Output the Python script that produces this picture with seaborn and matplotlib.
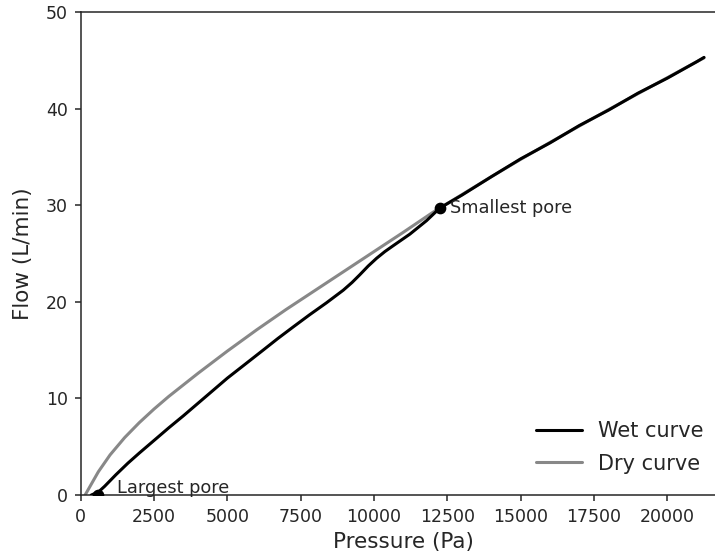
import matplotlib
matplotlib.use("Agg")
import matplotlib.pyplot as plt
import seaborn as sns
import pandas as pd

# Dry (reference) run: pressure in Pa, flow in L/min
dry_pressure = [150, 600, 1000, 1500, 2000, 2500, 3000, 4000, 5000, 6000, 7000,
                8000, 9000, 10000, 11000, 12000, 12240, 13000, 14000, 15000,
                16000, 17000, 18000, 19000, 20000, 21000, 21250]
dry_flow = [0.0, 2.4, 4.15, 5.95, 7.5, 8.9, 10.2, 12.6, 14.9, 17.1, 19.2,
            21.2, 23.2, 25.2, 27.2, 29.25, 29.7, 31.1, 32.95, 34.75,
            36.5, 38.2, 39.9, 41.55, 43.2, 44.85, 45.25]

# Wet run (sample saturated with wetting liquid)
wet_pressure = [360, 600, 815, 1200, 1610, 2000, 2520, 3000, 3500, 4000, 4500,
                5000, 5590, 6220, 6720, 7245, 7800, 8380, 8950, 9250, 9515,
                9800, 10085, 10370, 10650, 11220, 11790, 12240, 13000, 14000,
                15000, 16000, 17000, 18000, 19000, 20000, 21000, 21250]
wet_flow = [0.0, 0.3, 0.9, 2.1, 3.3, 4.35, 5.7, 6.95, 8.2, 9.5, 10.8,
            12.1, 13.5, 15.0, 16.2, 17.4, 18.65, 19.9, 21.2, 22.0, 22.8,
            23.7, 24.5, 25.2, 25.8, 27.0, 28.4, 29.7, 31.05, 32.95,
            34.8, 36.45, 38.25, 39.85, 41.6, 43.15, 44.85, 45.3]

# Characteristic points
largest_pore = (600, 0.0)
smallest_pore = (12240, 29.7)

x_ticks = [0, 2500, 5000, 7500, 10000, 12500, 15000, 17500, 20000]
y_ticks = [0, 10, 20, 30, 40, 50]

sns.set_style("ticks")
plt.rcParams["font.family"] = ["DejaVu Sans"]

fig = plt.figure(figsize=(7.15, 5.58), dpi=100)
ax = fig.add_axes([0.1129, 0.1129, 0.9025, 0.8656])

dry = pd.DataFrame({"Pressure (Pa)": dry_pressure, "Flow (L/min)": dry_flow})
wet = pd.DataFrame({"Pressure (Pa)": wet_pressure, "Flow (L/min)": wet_flow})

sns.lineplot(data=dry, x="Pressure (Pa)", y="Flow (L/min)", color="#888888",
             linewidth=2.2, sort=False, ax=ax, label="Dry curve", zorder=2)
sns.lineplot(data=wet, x="Pressure (Pa)", y="Flow (L/min)", color="black",
             linewidth=2.2, sort=False, ax=ax, label="Wet curve", zorder=3)

ax.scatter([largest_pore[0], smallest_pore[0]], [largest_pore[1], smallest_pore[1]],
           s=55, color="black", zorder=5, clip_on=True)
ax.annotate("Largest pore", xy=largest_pore, xytext=(13.5, 1.7),
            textcoords="offset points", va="baseline", ha="left",
            fontsize=12.8, color="#262626")
ax.annotate("Smallest pore", xy=smallest_pore, xytext=(7.2, -3.6),
            textcoords="offset points", va="baseline", ha="left",
            fontsize=12.8, color="#262626")

ax.set_xlim(0, 22000)
ax.set_ylim(0, 50)
ax.set_xticks(x_ticks)
ax.set_yticks(y_ticks)
ax.tick_params(labelsize=12.5, width=1.1, length=4.2, pad=5, colors="#262626")
for sp in ax.spines.values():
    sp.set_linewidth(1.1)
ax.set_xlabel("Pressure (Pa)", fontsize=15.5, color="#262626")
ax.set_ylabel("Flow (L/min)", fontsize=15.5, color="#262626")
ax.xaxis.set_label_coords(0.5, -0.077)
ax.yaxis.set_label_coords(-0.074, 0.5)

handles, labels = ax.get_legend_handles_labels()
order = [labels.index("Wet curve"), labels.index("Dry curve")]
ax.legend([handles[i] for i in order], [labels[i] for i in order],
          loc="lower left", bbox_to_anchor=(0.7497, 0.151),
          bbox_transform=fig.transFigure, frameon=False, fontsize=15,
          borderpad=0, borderaxespad=0, handlelength=2.2,
          handletextpad=0.77, labelspacing=0.62)

fig.savefig("out.png", dpi=100)
